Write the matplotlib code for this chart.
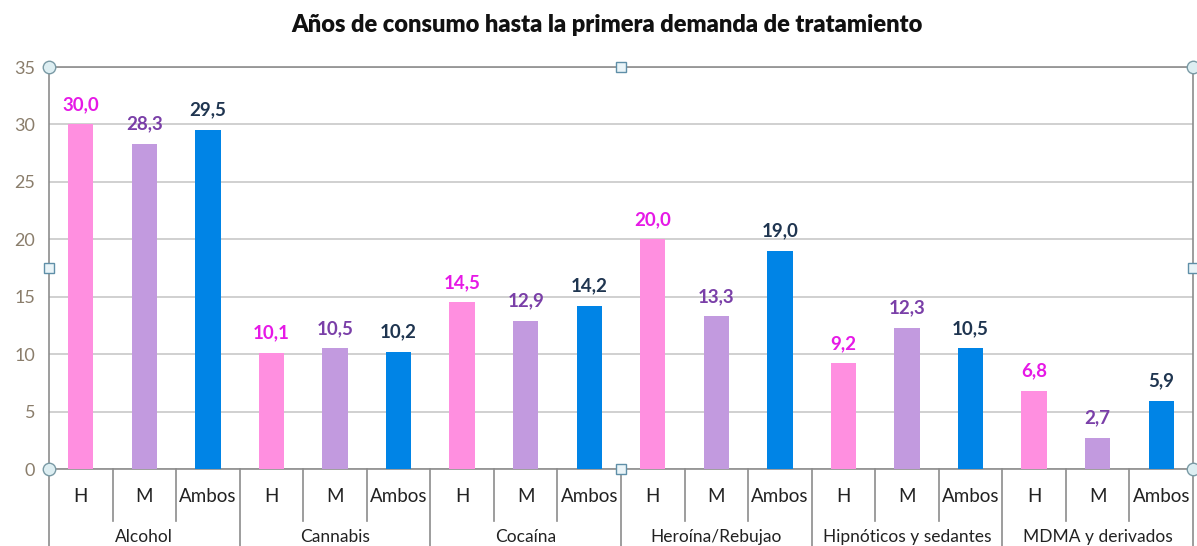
import numpy as np
import matplotlib
matplotlib.use('Agg')
import matplotlib.pyplot as plt
import matplotlib.transforms as mtransforms

groups = ['Alcohol', 'Cannabis', 'Cocaína', 'Heroína/Rebujao', 'Hipnóticos y sedantes', 'MDMA y derivados']
subcats = ['H', 'M', 'Ambos']
h_vals = [30.0, 10.1, 14.5, 20.0, 9.2, 6.8]
m_vals = [28.3, 10.5, 12.9, 13.3, 12.3, 2.7]
ambos_vals = [29.5, 10.2, 14.2, 19.0, 10.5, 5.9]

bar_colors = ['#FF8FE0', '#C29ADF', '#0084E6']
label_colors = ['#E619E6', '#7A3FA8', '#1F3550']

plt.rcParams['font.family'] = ['Lato', 'DejaVu Sans']

fig = plt.figure(figsize=(11.97, 5.46), dpi=100)
ax = fig.add_axes([49/1197, 1 - 469/546, (1193-49)/1197, (469-67)/546])

series = [h_vals, m_vals, ambos_vals]
for s, vals in enumerate(series):
    x = np.arange(len(groups)) * 3 + s
    bars = ax.bar(x, vals, width=0.4, color=bar_colors[s], zorder=3)
    for xi, v in zip(x, vals):
        ax.text(xi, v + 1.0, f'{v:.1f}'.replace('.', ','), ha='center', va='bottom',
                fontsize=13.5, fontweight='bold', color=label_colors[s], zorder=4)

ax.set_xlim(-0.5, len(groups) * 3 - 0.5)
ax.set_ylim(0, 35)
ax.set_yticks(np.arange(0, 36, 5))
ax.tick_params(axis='y', length=0, labelsize=13, labelcolor='#8A7D6B', pad=10)
ax.set_xticks([])
ax.yaxis.grid(True, color='#C8C8C8', linewidth=1.2, zorder=0)
for side in ['left', 'bottom', 'right', 'top']:
    ax.spines[side].set_color('#8C8C8C')
    ax.spines[side].set_linewidth(1.2)

trans = mtransforms.blended_transform_factory(ax.transData, ax.transAxes)
px = 1 / (469 - 67)
n = len(groups) * 3
for k in range(n + 1):
    xb = k - 0.5
    if k % 3 == 0:
        ax.plot([xb, xb], [0, -80 * px], transform=trans, color='#8C8C8C', lw=1.2, clip_on=False)
    else:
        ax.plot([xb, xb], [0, -52 * px], transform=trans, color='#8C8C8C', lw=1.2, clip_on=False)
for i in range(n):
    ax.text(i, -27 * px, subcats[i % 3], transform=trans, ha='center', va='center',
            fontsize=13.5, color='#222222')
for g, name in enumerate(groups):
    ax.text(g * 3 + 1, -68 * px, name, transform=trans, ha='center', va='center',
            fontsize=12.5, color='#222222')

# selection handles
for (hx, hy) in [(0, 0), (1, 0), (0, 1), (1, 1)]:
    ax.plot(hx, hy, 'o', ms=9, mfc='#DDEEF2', mec='#7A9AA5', mew=1, transform=ax.transAxes,
            clip_on=False, zorder=6)
for (hx, hy) in [(0.5, 0), (0.5, 1), (0, 0.5), (1, 0.5)]:
    ax.plot(hx, hy, 's', ms=7, mfc='#EAF4F8', mec='#5F8FA8', mew=1, transform=ax.transAxes,
            clip_on=False, zorder=6)

fig.text(607/1197, 1 - 25/546, 'Años de consumo hasta la primera demanda de tratamiento',
         ha='center', va='center', fontsize=17, fontweight='heavy', color='#111111')

fig.savefig('out.png', dpi=100)
